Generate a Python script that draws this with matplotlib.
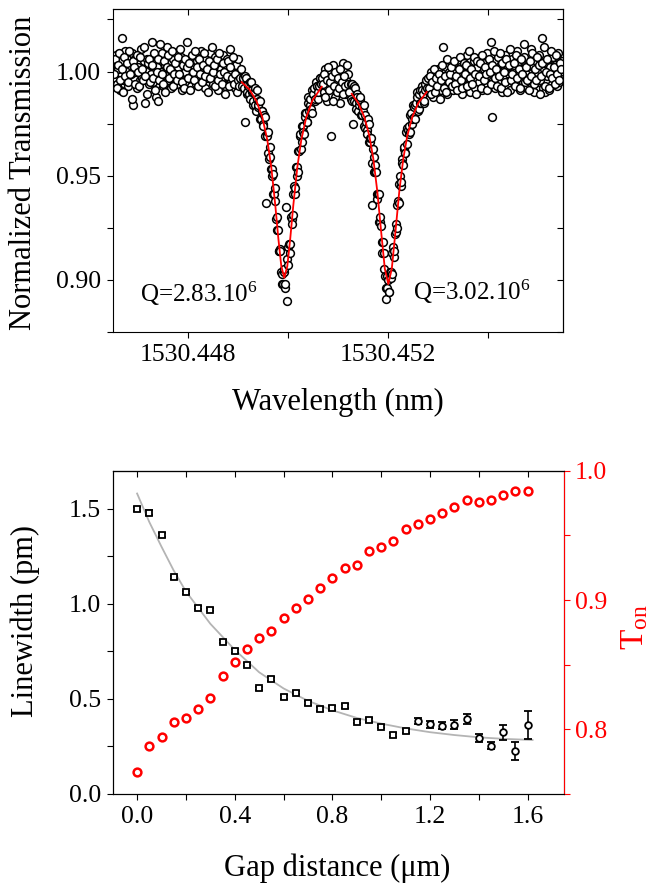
import numpy as np
import matplotlib
matplotlib.use('Agg')
import matplotlib.pyplot as plt
from matplotlib.ticker import FixedLocator, FormatStrFormatter, MultipleLocator

plt.rcParams['font.family'] = ['Liberation Serif', 'DejaVu Serif']
plt.rcParams['mathtext.fontset'] = 'custom'
plt.rcParams['mathtext.rm'] = 'Liberation Serif'
plt.rcParams['mathtext.it'] = 'Liberation Serif:italic'
plt.rcParams['axes.linewidth'] = 0.8

# ---- top panel: transmission spectrum (segments of the sweep) ----
wl_left = (1530.44651, 1530.44906)
tr_left = [1.004, .997, 1.008, .994, 1.001, .991, 1.005, 1.016, .996, 1.010,
           .998, 1.006, .993, 1.003, .999, 1.009, .984, 1.000, 1.007, .992,
           1.002, .996, 1.011, .997, 1.005, .985, 1.001, 1.006, .994, 1.003,
           .999, 1.014, .995, 1.004, .988, 1.002, .986, .997, 1.000, 1.009,
           .993, 1.003, .998, 1.012, .996, 1.005, .992, 1.001, 1.006, .997,
           1.009, .994, 1.002, .999, 1.007, .991, 1.004, 1.000, .995, 1.014,
           .997, 1.006, .993, 1.003, 1.008, .998, .994, 1.005, 1.001, .996,
           1.010, .995, 1.002, .992, 1.006, 1.000, .997, 1.009, .999, 1.004,
           .994, 1.007, .998, 1.003, .991, 1.005, 1.001, .996, 1.008, .993,
           1.002, 1.006, .997, 1.011, .995, 1.000, 1.004, .992, 1.003, .998,
           1.006, .996, 1.001]

# second set of readings in the flat region, between the first ones
wl_left_b = (1530.4465225, 1530.4490475)
tr_left_b = [.999, 1.006, .992, 1.003, 1.009, .996, 1.001, .990, 1.007, .998,
             1.004, .995, 1.010, .999, .987, 1.005, 1.002, .994, 1.008, 1.000,
             .993, 1.007, 1.001, .996, 1.012, .998, .989, 1.004, 1.006, .995,
             1.003, .997, 1.009, .991, 1.000, 1.006, .996, 1.013, .999, .994,
             1.005, .990, 1.002, 1.008, .997, 1.001, 1.010, .993, .999, 1.004,
             .996, 1.007, .999, 1.011, .995, 1.003, .992, 1.006, 1.002, .997,
             1.004, .991, 1.008, 1.000, .996, 1.010, 1.002, .993, 1.006, .999,
             .995, 1.003, 1.009, .998, 1.001, .990, 1.005, .997, 1.012, 1.000,
             1.003, .993, 1.006, .996, 1.009, .999, .994, 1.004, 1.000, .989,
             .998, 1.005, .993, 1.002, .997, 1.007, .994, .999, .990, .996,
             .993, .997]

wl_dip1 = (1530.449085, 1530.45066)
tr_dip1 = [.993, .997, .997, .992, .976, .998, .997, .989, .990, .993,
           .994, .989, .987, .995, .995, .990, .991, .984, .986, .990,
           .992, .984, .981, .991, .987, .983, .984, .986, .986, .977,
           .977, .981, .981, .975, .974, .979, .978, .969, .937, .970,
           .969, .971, .961, .958, .964, .959, .953, .950, .953, .951,
           .941, .941, .944, .938, .929, .924, .930, .924, .914, .914,
           .915, .914, .904, .903, .898, .898, .904, .905, .896, .898,
           .935, .910, .890, .907, .916, .917, .913, .917, .930, .929,
           .927, .931, .941, .945, .941, .944, .954, .954, .950, .952,
           .962, .962, .969, .970, .963, .966, .974, .974, .971, .970,
           .980, .978, .980, .976, .976, .985, .988, .981, .984, .987,
           .982, .980, .991, .989, .989, .992, .986, .987, .995, .993,
           .993, .987, .990, .993, .997, .997, .994]

wl_mid = (1530.450685, 1530.451235)
tr_mid = [.997, .990, 1.001, .993, .986, .996, .999, .969, .992, 1.003,
          .988, .995, .991, 1.000, .985, .997, .994, 1.004, .989, .996,
          .992, .999, .991]
wl_mid_b = (1530.4506975, 1530.4512225)
tr_mid_b = [.994, .999, .988, .996, 1.002, .991, .995, .998, .986, .993,
            1.000, .990, .997, .992, 1.001, .995, .989, .998, .993, 1.003,
            .994, .990]

wl_dip2 = (1530.45125, 1530.452775)
tr_dip2 = [.994, .987, .986, .994, .975, .986, .993, .992, .985, .982,
           .989, .988, .981, .984, .986, .987, .988, .979, .979, .983,
           .981, .984, .974, .973, .979, .976, .972, .970, .977, .975,
           .966, .966, .968, .968, .936, .956, .963, .959, .952, .952,
           .955, .952, .941, .939, .941, .941, .928, .928, .930, .926,
           .918, .913, .918, .913, .905, .902, .891, .896, .896, .902,
           .900, .894, .894, .904, .904, .901, .903, .913, .916, .911,
           .914, .922, .927, .923, .925, .936, .938, .937, .946, .950,
           .945, .947, .958, .956, .955, .963, .964, .961, .961, .971,
           .973, .965, .972, .974, .970, .971, .979, .980, .975, .977,
           .984, .983, .978, .977, .984, .985, .990, .988, .981, .982,
           .989, .991, .985, .985, .993, .991, .989, .985, .986, .991,
           .994, .996, .992]

wl_right = (1530.4528, 1530.455475)
tr_right = [.997, .990, 1.000, .992, .988, .998, .995, .991, 1.001, .993,
            .991, .998, 1.012, .993, 1.002, .989, .997, 1.000, .994, 1.004,
            .991, 1.000, .996, 1.004, .993, .997, 1.002, .989, .999, 1.003,
            .996, 1.008, .994, 1.000, .990, 1.003, .997, 1.005, .992, 1.002,
            1.006, .995, .999, .991, 1.004, 1.001, .993, 1.009, .997, 1.003,
            1.014, .978, .996, 1.005, .992, 1.001, 1.007, .995, 1.000, .990,
            1.004, .997, 1.008, .993, 1.002, .999, .991, 1.006, .996, 1.003,
            .994, 1.010, .998, 1.005, .991, 1.001, .995, 1.007, .999, .992,
            1.003, .997, 1.011, .993, 1.002, .990, 1.005, 1.000, .995, 1.008,
            .996, 1.016, .992, 1.004, .990, .998, 1.006, .991, 1.002, .994,
            1.007, .997, 1.003, .993, 1.009, .995, 1.000, 1.005]
wl_right_b = (1530.4528125, 1530.4554625)
tr_right_b = [.992, .998, .989, .995, 1.001, .990, .997, .993, .999, .987,
              .996, 1.003, .992, .998, .990, 1.006, .995, .999, 1.002, .993,
              1.005, .994, .998, .991, 1.001, 1.007, .996, .992, 1.004, .999,
              1.003, .993, 1.010, .997, 1.001, .994, 1.007, .999, .989, 1.005,
              .998, 1.004, .992, 1.008, .996, 1.002, .999, .991, 1.006, 1.000,
              .994, 1.003, 1.010, .997, 1.001, .993, .998, 1.009, .992, 1.004,
              1.000, .995, 1.006, .990, 1.003, 1.011, .996, .999, 1.004, .993,
              1.008, .997, 1.001, .992, 1.006, .999, 1.013, .995, 1.002, .996,
              .991, 1.005, .998, 1.009, .994, 1.001, .996, 1.007, 1.003, .989,
              .998, 1.004, 1.012, .993, 1.000, 1.006, .992, .999, 1.010, .997,
              1.002, .994, 1.008, .999, .996, 1.004, 1.001]

# Lorentzian fits
fit1_wl = [1530.449074, 1530.449226, 1530.449366, 1530.449486, 1530.449586,
           1530.449666, 1530.449746, 1530.449806, 1530.449866, 1530.449926,
           1530.449986, 1530.450046, 1530.450106, 1530.450186, 1530.450266,
           1530.450366, 1530.450486, 1530.450674]
fit1_tr = [.9949, .9915, .9860, .9781, .9672, .9540, .9358, .9201, .9066, .901,
           .9066, .9201, .9358, .9540, .9672, .9781, .9860, .9927]
fit2_wl = [1530.451274, 1530.451406, 1530.451526, 1530.451626, 1530.451706,
           1530.451786, 1530.451866, 1530.451936, 1530.452006, 1530.452076,
           1530.452146, 1530.452226, 1530.452306, 1530.452386, 1530.452486,
           1530.452606, 1530.452774]
fit2_tr = [.9893, .9849, .9782, .9692, .9582, .9425, .9224, .9054, .898, .9054,
           .9224, .9425, .9582, .9692, .9782, .9849, .9902]

# ---- bottom panel ----
gap = [0.00, 0.05, 0.10, 0.15, 0.20, 0.25, 0.30, 0.35, 0.40, 0.45, 0.50,
       0.55, 0.60, 0.65, 0.70, 0.75, 0.80, 0.85, 0.90, 0.95, 1.00, 1.05,
       1.10, 1.15, 1.20, 1.25, 1.30, 1.35, 1.40, 1.45, 1.50, 1.55, 1.60]
linewidth = [1.50, 1.48, 1.36, 1.14, 1.06, 0.98, 0.97, 0.80, 0.75, 0.68, 0.556,
             0.605, 0.512, 0.533, 0.477, 0.447, 0.453, 0.463, 0.380, 0.388,
             0.353, 0.312, 0.332, 0.384, 0.367, 0.358, 0.365, 0.395, 0.293,
             0.254, 0.324, 0.226, 0.363]
lw_err = [0.010, 0.012, 0.010, 0.008, 0.010, 0.008, 0.010, 0.008, 0.010, 0.008,
          0.008, 0.010, 0.010, 0.008, 0.010, 0.008, 0.010, 0.010, 0.008, 0.010,
          0.008, 0.010, 0.010, 0.018, 0.018, 0.018, 0.022, 0.028, 0.022, 0.020,
          0.040, 0.045, 0.075]
t_on = [0.767, 0.787, 0.794, 0.806, 0.809, 0.816, 0.824, 0.841, 0.852, 0.862,
        0.871, 0.876, 0.886, 0.894, 0.901, 0.909, 0.917, 0.925, 0.927, 0.938,
        0.941, 0.946, 0.955, 0.959, 0.963, 0.967, 0.972, 0.977, 0.976, 0.977,
        0.981, 0.984, 0.984]
fit_gap = [0.0, 0.05, 0.1, 0.15, 0.2, 0.3, 0.4, 0.5, 0.6, 0.7, 0.8, 0.9, 1.0,
           1.1, 1.2, 1.3, 1.4, 1.5, 1.62]
fit_lw = [1.58, 1.43, 1.30, 1.175, 1.065, 0.895, 0.758, 0.640, 0.555, 0.490,
          0.440, 0.400, 0.370, 0.345, 0.325, 0.310, 0.298, 0.290, 0.284]

TICK_FS = 18.5
LABEL_FS = 22

fig = plt.figure(figsize=(6.57, 8.84), dpi=100)
ax1 = fig.add_axes([113 / 657, 1 - 332 / 884, 450 / 657, 323 / 884])
ax2 = fig.add_axes([112.7 / 657, 1 - 794 / 884, 451.6 / 657, 323.3 / 884])

# top panel data
segments = [(wl_left, tr_left), (wl_left_b, tr_left_b), (wl_dip1, tr_dip1),
            (wl_mid, tr_mid), (wl_mid_b, tr_mid_b), (wl_dip2, tr_dip2),
            (wl_right, tr_right), (wl_right_b, tr_right_b)]
for rng, tr in segments:
    wl = np.linspace(rng[0], rng[1], len(tr))
    ax1.plot(wl, tr, 'o', ms=5.6, mfc='white', mec='black', mew=1.1, zorder=2)
ax1.plot(fit1_wl, fit1_tr, '-', color='red', lw=1.3, zorder=3)
ax1.plot(fit2_wl, fit2_tr, '-', color='red', lw=1.3, zorder=3)

ax1.set_xlim(1530.4465, 1530.4555)
ax1.set_ylim(0.875, 1.030)
ax1.xaxis.set_major_locator(FixedLocator([1530.448, 1530.452]))
ax1.xaxis.set_minor_locator(FixedLocator([1530.450, 1530.454]))
ax1.xaxis.set_major_formatter(FormatStrFormatter('%.3f'))
ax1.yaxis.set_major_locator(FixedLocator([0.90, 0.95, 1.00]))
ax1.yaxis.set_minor_locator(FixedLocator([0.875, 0.925, 0.975, 1.025]))
ax1.yaxis.set_major_formatter(FormatStrFormatter('%.2f'))
ax1.tick_params(which='both', direction='out', labelsize=TICK_FS, width=0.8)
ax1.tick_params(which='major', length=4.5, pad=4)
ax1.tick_params(which='minor', length=4)

top1 = ax1.secondary_xaxis('top')
top1.xaxis.set_major_locator(FixedLocator([1530.448, 1530.452]))
top1.xaxis.set_minor_locator(FixedLocator([1530.450, 1530.454]))
top1.tick_params(which='both', direction='in', labeltop=False, length=4.5, width=0.8)
right1 = ax1.secondary_yaxis('right')
right1.yaxis.set_major_locator(FixedLocator([0.90, 0.95, 1.00]))
right1.yaxis.set_minor_locator(FixedLocator([0.875, 0.925, 0.975, 1.025]))
right1.tick_params(which='both', direction='in', labelright=False, length=4.5, width=0.8)

ax1.text(1530.44704, 0.8896, 'Q=2.83.10$^{6}$', fontsize=18, va='baseline')
ax1.text(1530.452506, 0.8904, 'Q=3.02.10$^{6}$', fontsize=18, va='baseline')

ax1.set_ylabel('Normalized Transmission', fontsize=LABEL_FS, va='center')
ax1.yaxis.set_label_coords(-0.198, 0.492)
ax1.set_xlabel('Wavelength (nm)', fontsize=LABEL_FS, va='center')
ax1.xaxis.set_label_coords(0.5, -0.217)

# bottom panel: linewidth with error bars
sq = slice(0, 23)
ci = slice(23, None)
ax2.plot(fit_gap, fit_lw, '-', color='#b4b4b4', lw=1.3, zorder=1)
ax2.errorbar(gap[sq], linewidth[sq], yerr=lw_err[sq], fmt='s', ms=4.3, mfc='white',
             mec='black', mew=1.3, ecolor='black', elinewidth=1.2, capsize=2.8,
             capthick=1.2, zorder=3)
ax2.errorbar(gap[ci], linewidth[ci], yerr=lw_err[ci], fmt='o', ms=4.8, mfc='white',
             mec='black', mew=1.3, ecolor='black', elinewidth=1.2, capsize=2.8,
             capthick=1.2, zorder=3)

ax2.set_xlim(-0.1, 1.75)
ax2.set_ylim(0.0, 1.70)
ax2.xaxis.set_major_locator(MultipleLocator(0.4))
ax2.xaxis.set_minor_locator(MultipleLocator(0.2))
ax2.xaxis.set_major_formatter(FormatStrFormatter('%.1f'))
ax2.yaxis.set_major_locator(MultipleLocator(0.5))
ax2.yaxis.set_minor_locator(MultipleLocator(0.25))
ax2.yaxis.set_major_formatter(FormatStrFormatter('%.1f'))
ax2.tick_params(which='both', direction='out', labelsize=TICK_FS, width=0.8,
                right=False)
ax2.tick_params(which='major', length=4.5, pad=4)
ax2.tick_params(which='minor', length=4)

top2 = ax2.secondary_xaxis('top')
top2.xaxis.set_major_locator(MultipleLocator(0.4))
top2.xaxis.set_minor_locator(MultipleLocator(0.2))
top2.tick_params(which='both', direction='in', labeltop=False, length=4.5, width=0.8)

ax2.set_ylabel('Linewidth (pm)', fontsize=LABEL_FS, va='center')
ax2.yaxis.set_label_coords(-0.194, 0.535)
ax2.set_xlabel('Gap distance (μm)', fontsize=LABEL_FS, va='center')
ax2.xaxis.set_label_coords(0.498, -0.229)

# T_on on the right axis
ax3 = ax2.twinx()
ax3.plot(gap, t_on, 'o', ms=5.6, mfc='none', mec='red', mew=1.8, zorder=4)
ax3.set_ylim(0.75, 1.0)
ax3.yaxis.set_major_locator(MultipleLocator(0.1))
ax3.yaxis.set_minor_locator(MultipleLocator(0.05))
ax3.yaxis.set_major_formatter(FormatStrFormatter('%.1f'))
ax3.tick_params(which='both', direction='out', colors='red', labelsize=TICK_FS,
                width=0.8)
ax3.tick_params(which='major', length=4.5, pad=3)
ax3.tick_params(which='minor', length=4)
ax3.spines['right'].set_color('red')
ax3.set_ylabel(r'$\mathrm{T}_{\mathrm{on}}$', fontsize=24, color='red',
               va='center', rotation=90)
ax3.yaxis.set_label_coords(1.156, 0.517)

fig.savefig('out.png', dpi=100)
